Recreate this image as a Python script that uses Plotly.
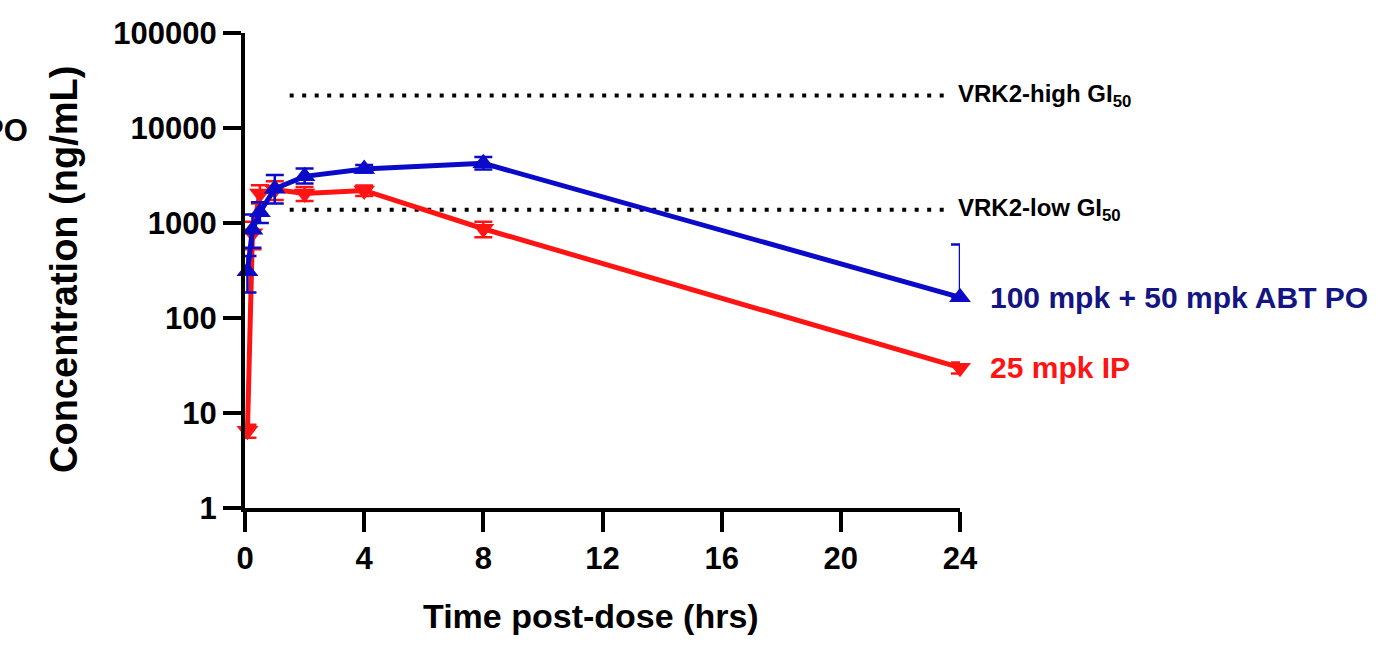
import plotly.graph_objects as go

# Data
t_blue = [0.083, 0.25, 0.5, 1, 2, 4, 8, 24]
c_blue = [310, 850, 1300, 2300, 3100, 3700, 4250, 165]
sd_blue_plus = [140, 380, 350, 900, 650, 380, 700, 430]
sd_blue_minus = [125, 300, 300, 700, 500, 300, 600, 0]

t_red = [0.083, 0.25, 0.5, 1, 2, 4, 8, 24]
c_red = [6.5, 780, 2050, 2250, 2050, 2200, 870, 30]
sd_red = [1, 250, 450, 500, 350, 280, 160, 4]

gi50_high = 22000
gi50_low = 1380
gi50_x = [1.5, 23.5]

x_ticks = [0, 4, 8, 12, 16, 20, 24]
y_ticks = [1, 10, 100, 1000, 10000, 100000]
y_ticklabels = ["1", "10", "100", "1000", "10000", "100000"]

BLUE = "#0a0ac8"
RED = "#ff1414"
NAVY = "#141482"
FONT = "Liberation Sans"

L, R, T, B = 245, 429, 33, 139
W, H = 1389, 647
PW, PH = W - L - R, H - T - B


def px_x(p):
    return (p - L) / PW


def px_y(p):
    return (H - B - p) / PH


fig = go.Figure()

for yv in [gi50_high, gi50_low]:
    fig.add_trace(go.Scatter(
        x=gi50_x, y=[yv, yv], mode="lines",
        line=dict(color="black", width=4, dash="4px,8.5px"),
        showlegend=False, hoverinfo="skip"))

fig.add_trace(go.Scatter(
    x=t_red, y=c_red, mode="lines+markers",
    line=dict(color=RED, width=5),
    marker=dict(symbol="triangle-down", size=19, color=RED),
    error_y=dict(type="data", array=sd_red, color=RED, thickness=2.5, width=9),
    cliponaxis=False, showlegend=False))

fig.add_trace(go.Scatter(
    x=t_blue, y=c_blue, mode="lines+markers",
    line=dict(color=BLUE, width=5),
    marker=dict(symbol="triangle-up", size=19, color=BLUE),
    error_y=dict(type="data", array=sd_blue_plus, arrayminus=sd_blue_minus,
                 color=BLUE, thickness=2.5, width=9),
    cliponaxis=False, showlegend=False))

fig.update_layout(
    width=W, height=H,
    margin=dict(l=L, r=R, t=T, b=B),
    plot_bgcolor="white", paper_bgcolor="white",
    font=dict(family=FONT, color="black"),
    xaxis=dict(
        range=[0, 24], tickvals=x_ticks, ticktext=[str(v) for v in x_ticks],
        showgrid=False, zeroline=False, showline=True, linecolor="black", linewidth=4,
        ticks="outside", ticklen=20, tickwidth=4, tickcolor="black",
        tickfont=dict(size=31, family=FONT, weight="bold"),
    ),
    yaxis=dict(
        type="log", range=[0, 5], tickvals=y_ticks, ticktext=y_ticklabels,
        showgrid=False, zeroline=False, showline=True, linecolor="black", linewidth=4,
        ticks="outside", ticklen=18, tickwidth=4, tickcolor="black",
        tickfont=dict(size=31, family=FONT, weight="bold"),
    ),
)

# axis titles
fig.add_annotation(x=px_x(591), y=px_y(616), xref="paper", yref="paper",
                   text="Time post-dose (hrs)", showarrow=False,
                   xanchor="center", yanchor="middle",
                   font=dict(size=34, family=FONT, weight="bold", color="black"))
fig.add_annotation(x=px_x(64), y=px_y(270), xref="paper", yref="paper",
                   text="Concentration (ng/mL)", showarrow=False, textangle=-90,
                   xanchor="center", yanchor="middle",
                   font=dict(size=38, family=FONT, weight="bold", color="black"))

fig.add_annotation(x=24, y=4.3424, xref="x", yref="y", text="VRK2-high GI<sub>50</sub>",
                   showarrow=False, xanchor="left", xshift=-4,
                   font=dict(size=24, family=FONT, weight="bold", color="black"))
fig.add_annotation(x=24, y=3.1399, xref="x", yref="y", text="VRK2-low GI<sub>50</sub>",
                   showarrow=False, xanchor="left", xshift=-4,
                   font=dict(size=24, family=FONT, weight="bold", color="black"))
fig.add_annotation(x=24, y=2.22, xref="x", yref="y", text="100 mpk + 50 mpk ABT PO",
                   showarrow=False, xanchor="left", xshift=28,
                   font=dict(size=30, family=FONT, weight="bold", color=NAVY))
fig.add_annotation(x=24, y=1.48, xref="x", yref="y", text="25 mpk IP",
                   showarrow=False, xanchor="left", xshift=28,
                   font=dict(size=30, family=FONT, weight="bold", color=RED))
# partially visible label at the left edge (cut off in the reference too)
fig.add_annotation(x=px_x(30), y=px_y(130), xref="paper", yref="paper", text="PO",
                   showarrow=False, xanchor="right", yanchor="middle",
                   font=dict(size=31, family=FONT, weight="bold", color="black"))

fig.write_html("out.html")
